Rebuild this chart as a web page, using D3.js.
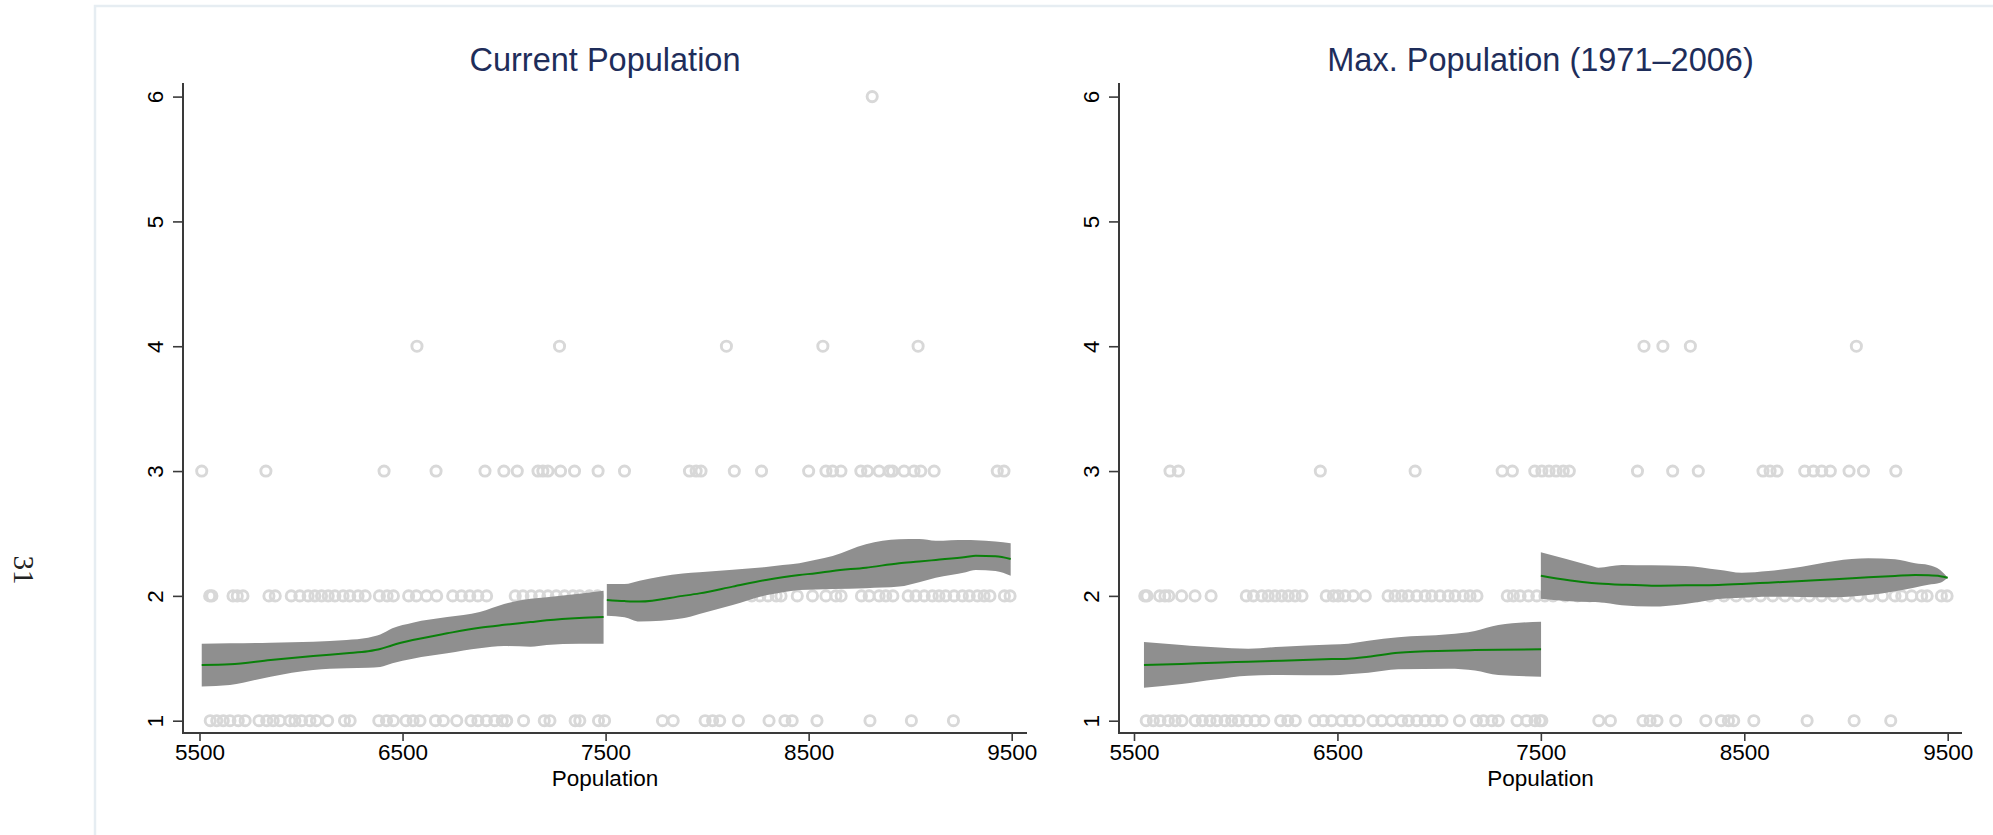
<!DOCTYPE html>
<html><head><meta charset="utf-8">
<script src="https://cdn.jsdelivr.net/npm/d3@7"></script>
<style>body{margin:0;background:#fff;} svg{display:block;}</style>
</head><body>
<svg id="c" width="1993" height="835"></svg>
<script>
// ---------------- DATA ----------------
const xTicks = [5500, 6500, 7500, 8500, 9500];
const yTicks = [1, 2, 3, 4, 5, 6];
const panelTitles = ["Current Population", "Max. Population (1971\u20132006)"];
const xLabel = "Population";
const pageNumber = "31";

// Scatter points: population value of each observation, grouped by outcome level
const curY1 = [5553,5585,5617,5650,5691,5725,5793,5831,5863,5896,5945,5970,6003,6044,6076,6131,6214,6242,6383,6421,6455,6517,6552,6586,6662,6701,6767,6837,6871,6913,6954,6991,7013,7096,7198,7226,7350,7373,7465,7495,7780,7833,7990,8027,8062,8154,8305,8383,8419,8541,8802,9006,9213];
const curY2 = [5550,5561,5665,5686,5714,5842,5873,5952,5994,6035,6068,6101,6134,6167,6207,6240,6281,6316,6386,6424,6455,6530,6568,6618,6668,6747,6790,6831,6871,6914,7055,7093,7134,7175,7216,7257,7298,7339,7373,7420,7460,7540,7600,7680,7760,7850,7950,8050,8150,8220,8260,8300,8340,8364,8444,8519,8585,8634,8660,8760,8798,8847,8880,8915,8990,9028,9069,9109,9142,9175,9216,9257,9291,9331,9364,9393,9464,9492];
const curY3 = [5511,5827,6409,6665,6906,6999,7065,7167,7191,7216,7278,7347,7463,7593,7913,7946,7970,8134,8268,8500,8585,8618,8659,8757,8790,8847,8897,8913,8970,9019,9052,9118,9429,9462];
const curY4 = [6571,7273,8095,8570,9039];
const curY6 = [8813];

const maxY1 = [5560,5595,5628,5669,5702,5736,5801,5836,5874,5907,5947,5980,6013,6054,6095,6138,6221,6256,6293,6388,6431,6472,6521,6562,6605,6675,6718,6767,6816,6849,6890,6931,6972,7014,7100,7183,7217,7259,7291,7383,7431,7471,7496,7505,7785,7842,8002,8037,8071,8163,8311,8387,8422,8448,8547,8809,9040,9220];
const maxY2 = [5553,5564,5626,5652,5671,5734,5800,5879,6052,6087,6128,6160,6193,6226,6259,6292,6326,6445,6480,6504,6537,6578,6637,6749,6783,6816,6849,6890,6931,6964,7004,7045,7078,7119,7152,7186,7335,7365,7398,7439,7480,7520,7560,7620,7680,7740,7800,7870,7940,8000,8060,8130,8200,8270,8330,8400,8460,8520,8580,8640,8700,8760,8820,8880,8940,9000,9060,9120,9180,9241,9274,9323,9372,9399,9469,9497];
const maxY3 = [5677,5718,6416,6882,7310,7360,7470,7505,7540,7575,7610,7640,7975,8148,8274,8592,8627,8661,8797,8840,8881,8923,9015,9086,9245];
const maxY4 = [8007,8100,8235,9051];

// Local fits with confidence bands, one segment on each side of 7500
const curA_pop = [5511,5650,5850,6060,6225,6330,6390,6450,6550,6720,6880,7000,7130,7210,7370,7490];
const curA_fit = [1.446,1.452,1.486,1.518,1.540,1.556,1.574,1.605,1.646,1.700,1.745,1.768,1.790,1.804,1.823,1.831];
const curA_hi  = [1.617,1.620,1.625,1.633,1.647,1.665,1.690,1.740,1.785,1.830,1.870,1.935,1.978,1.990,2.018,2.042];
const curA_lo  = [1.275,1.286,1.353,1.406,1.420,1.424,1.430,1.460,1.497,1.540,1.580,1.598,1.593,1.607,1.617,1.617];

const curB_pop = [7506,7593,7667,7880,7962,8126,8290,8372,8454,8536,8618,8782,8946,9044,9126,9274,9323,9420,9495];
const curB_fit = [1.967,1.958,1.954,2.000,2.020,2.074,2.128,2.150,2.168,2.181,2.200,2.226,2.261,2.275,2.288,2.312,2.322,2.318,2.296];
const curB_hi  = [2.095,2.095,2.122,2.180,2.190,2.210,2.232,2.248,2.262,2.290,2.320,2.413,2.453,2.456,2.442,2.448,2.446,2.435,2.421];
const curB_lo  = [1.841,1.829,1.794,1.820,1.855,1.927,2.005,2.030,2.047,2.052,2.055,2.062,2.075,2.110,2.146,2.190,2.208,2.200,2.162];

const maxA_pop = [5549,5734,5816,5898,6062,6226,6472,6554,6652,6799,7045,7176,7291,7501];
const maxA_fit = [1.446,1.455,1.460,1.465,1.473,1.481,1.494,1.497,1.513,1.545,1.561,1.566,1.569,1.572];
const maxA_hi  = [1.631,1.607,1.597,1.588,1.577,1.593,1.610,1.617,1.640,1.668,1.692,1.719,1.767,1.793];
const maxA_lo  = [1.264,1.295,1.313,1.330,1.361,1.366,1.364,1.372,1.385,1.412,1.417,1.402,1.366,1.353];

const maxB_pop = [7500,7750,7783,7898,8045,8209,8373,8488,8618,8783,8946,9110,9241,9340,9405,9463,9500];
const maxB_fit = [2.162,2.104,2.100,2.090,2.082,2.085,2.088,2.095,2.106,2.120,2.133,2.149,2.160,2.167,2.165,2.158,2.146];
const maxB_hi  = [2.349,2.240,2.226,2.248,2.245,2.240,2.210,2.186,2.200,2.234,2.280,2.301,2.293,2.262,2.248,2.208,2.146];
const maxB_lo  = [1.978,1.950,1.949,1.925,1.914,1.935,1.975,1.985,1.994,1.992,1.989,2.007,2.038,2.068,2.090,2.106,2.146];

// ---------------- LAYOUT / STYLE ----------------
const W = 1993, H = 835;
const styles = {
  font: "'Liberation Sans', Arial, Helvetica, sans-serif",
  titleColor: "#1e2d5a", axisColor: "#3a3a3a",
  markerColor: "#d8d8d8", bandColor: "#8f8f8f", lineColor: "#0a800a"
};
const layout = [
  { axisX: 183,  axisRight: 1027, x0: 199.5, x1: 1011.7 },
  { axisX: 1119, axisRight: 1962, x0: 1134,  x1: 1947.7 }
];
const yTop = 83, xAxisY = 733, yPix1 = 720.7, yPix6 = 96.6;

const zip = (p, f, lo, hi) => p.map((v, i) => ({ p: v, fit: f[i], lo: lo[i], hi: hi[i] }));
const groups = (levels) => levels.flatMap(([lvl, arr]) => arr.map(v => ({ p: v, v: lvl })));

const panelData = [
  { title: panelTitles[0],
    pts: groups([[1, curY1], [2, curY2], [3, curY3], [4, curY4], [6, curY6]]),
    segs: [zip(curA_pop, curA_fit, curA_lo, curA_hi), zip(curB_pop, curB_fit, curB_lo, curB_hi)] },
  { title: panelTitles[1],
    pts: groups([[1, maxY1], [2, maxY2], [3, maxY3], [4, maxY4]]),
    segs: [zip(maxA_pop, maxA_fit, maxA_lo, maxA_hi), zip(maxB_pop, maxB_fit, maxB_lo, maxB_hi)] }
];

// ---------------- DRAW ----------------
const svg = d3.select("#c");
svg.append("rect").attr("width", W).attr("height", H).attr("fill", "#fff");

// page frame and page number
svg.append("path").attr("d", "M95,835V6H1993").attr("fill", "none")
  .attr("stroke", "#e6edf2").attr("stroke-width", 2.5);
svg.append("text").text(pageNumber)
  .attr("transform", "translate(24,570) rotate(90)")
  .attr("text-anchor", "middle").attr("dy", "0.35em")
  .attr("font-family", "'Liberation Serif', 'Times New Roman', serif")
  .attr("font-size", 29).attr("fill", "#222");

panelData.forEach((pd, i) => {
  const L = layout[i];
  const x = d3.scaleLinear().domain([xTicks[0], xTicks[xTicks.length - 1]]).range([L.x0, L.x1]);
  const y = d3.scaleLinear().domain([1, 6]).range([yPix1, yPix6]);
  const g = svg.append("g");

  // scatter
  g.append("g").selectAll("circle").data(pd.pts).join("circle")
    .attr("cx", d => x(d.p)).attr("cy", d => y(d.v)).attr("r", 5.1)
    .attr("fill", "none").attr("stroke", styles.markerColor).attr("stroke-width", 2.9);

  // bands
  const area = d3.area().x(d => x(d.p)).y0(d => y(d.lo)).y1(d => y(d.hi)).curve(d3.curveMonotoneX);
  const line = d3.line().x(d => x(d.p)).y(d => y(d.fit)).curve(d3.curveMonotoneX);
  pd.segs.forEach(s => {
    g.append("path").attr("d", area(s)).attr("fill", styles.bandColor);
  });
  pd.segs.forEach(s => {
    g.append("path").attr("d", line(s)).attr("fill", "none")
      .attr("stroke", styles.lineColor).attr("stroke-width", 2);
  });

  // axis lines
  g.append("line").attr("x1", L.axisX).attr("x2", L.axisX).attr("y1", yTop).attr("y2", xAxisY + 1)
    .attr("stroke", styles.axisColor).attr("stroke-width", 2);
  g.append("line").attr("x1", L.axisX - 1).attr("x2", L.axisRight).attr("y1", xAxisY).attr("y2", xAxisY)
    .attr("stroke", styles.axisColor).attr("stroke-width", 2);

  // y axis
  const ya = g.append("g").attr("transform", `translate(${L.axisX},0)`)
    .call(d3.axisLeft(y).tickValues(yTicks).tickSize(10).tickFormat(d3.format("d")));
  ya.select(".domain").remove();
  ya.selectAll(".tick line").attr("stroke", styles.axisColor).attr("stroke-width", 1.6);
  ya.selectAll(".tick text").attr("x", 0).attr("dy", 0)
    .attr("transform", "translate(-20,0) rotate(-90)").attr("text-anchor", "middle")
    .attr("font-family", styles.font).attr("font-size", 22.5).attr("fill", "#000");

  // x axis
  const xa = g.append("g").attr("transform", `translate(0,${xAxisY})`)
    .call(d3.axisBottom(x).tickValues(xTicks).tickSize(8).tickFormat(d3.format("d")));
  xa.select(".domain").remove();
  xa.selectAll(".tick line").attr("stroke", styles.axisColor).attr("stroke-width", 1.6);
  xa.selectAll(".tick text").attr("y", 27).attr("dy", 0)
    .attr("font-family", styles.font).attr("font-size", 22.5).attr("fill", "#000");

  const cx = (L.axisX + L.axisRight) / 2;
  g.append("text").text(xLabel).attr("x", cx).attr("y", 786).attr("text-anchor", "middle")
    .attr("font-family", styles.font).attr("font-size", 22.5).attr("fill", "#000");
  g.append("text").text(pd.title).attr("x", cx).attr("y", 71).attr("text-anchor", "middle")
    .attr("font-family", styles.font).attr("font-size", 32.5).attr("fill", styles.titleColor);
});
</script>
</body></html>
